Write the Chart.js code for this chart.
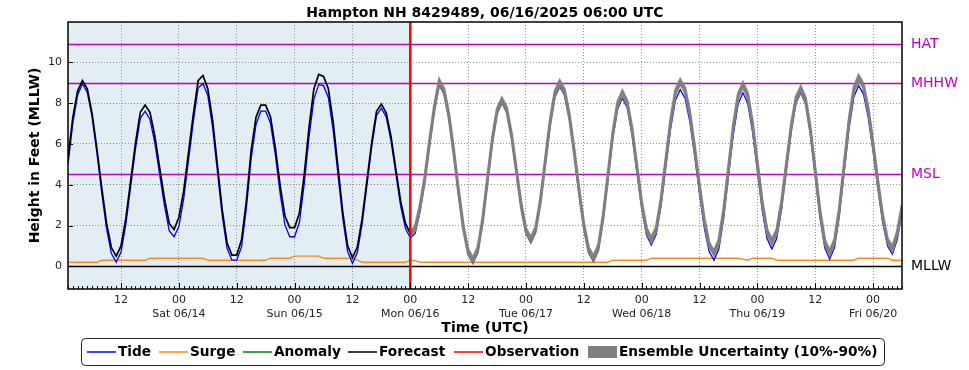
<!DOCTYPE html>
<html>
<head>
<meta charset="utf-8">
<title>Hampton NH 8429489</title>
<script src="https://cdn.jsdelivr.net/npm/chart.js@4.4.1/dist/chart.umd.min.js"></script>
<style>
  body { margin: 0; background: #fff; }
  canvas { display: block; }
</style>
</head>
<body>
<canvas id="tide-chart" width="969" height="370"></canvas>
<script>
// hours are counted from Mon 06/16 00:00 UTC, first sample is 06/13 01:00
const firstHour = -71;
const lastHour = 102;

const tide = [
  5.0, 7.0, 8.4, 8.95, 8.52, 7.31, 5.55, 3.6, 1.85, 0.63, 0.2,
  0.7, 2.05, 3.9, 5.75, 7.25, 7.6, 7.2, 6.06, 4.52, 2.99, 1.75, 1.45,
  1.95, 3.3, 5.2, 7.1, 8.75, 8.95, 8.37, 6.79, 4.63, 2.46, 0.88, 0.3, 0.3,
  0.95, 2.85, 5.3, 6.95, 7.6, 7.6, 7.02, 5.48, 3.57, 2.03, 1.45, 1.45,
  2.16, 4.02, 6.33, 8.19, 8.9, 8.85, 8.27, 6.67, 4.5, 2.33, 0.73, 0.15,
  0.66, 2.05, 3.95, 5.85, 7.4, 7.75, 7.32, 6.15, 4.55, 2.95, 1.85,
  1.4, 1.6, 2.65, 4.1, 5.95, 7.6, 8.88, 8.45, 7.24, 5.48, 3.54, 1.79, 0.58, 0.15,
  0.68, 2.11, 4.08, 6.04, 7.47, 8.0, 7.54, 6.29, 4.58, 2.86, 1.61, 1.15,
  1.66, 3.06, 4.98, 6.89, 8.29, 8.8, 8.38, 7.19, 5.47, 3.56, 1.84, 0.65, 0.23,
  0.77, 2.24, 4.24, 6.25, 7.71, 8.25, 7.77, 6.45, 4.65, 2.85, 1.53, 1.05,
  1.56, 2.95, 4.85, 6.75, 8.14, 8.65, 8.24, 7.08, 5.4, 3.55, 1.87, 0.71, 0.3,
  0.85, 2.35, 4.4, 6.45, 7.95, 8.5, 7.99, 6.59, 4.68, 2.76, 1.36, 0.85,
  1.36, 2.76, 4.68, 6.59, 7.99, 8.5, 7.95, 6.46, 4.43, 2.39, 0.9, 0.35,
  0.92, 2.48, 4.6, 6.73, 8.29, 8.85, 8.45, 7.3, 5.64, 3.81, 2.15, 1.0, 0.6,
  1.3, 2.6
];

const surge = [
  0.2, 0.2, 0.2, 0.2, 0.2, 0.2, 0.2,
  0.3, 0.3, 0.3, 0.3, 0.3, 0.3, 0.3, 0.3, 0.3, 0.3,
  0.4, 0.4, 0.4, 0.4, 0.4, 0.4, 0.4, 0.4, 0.4, 0.4, 0.4, 0.4,
  0.3, 0.3, 0.3, 0.3, 0.3, 0.3, 0.3, 0.3, 0.3, 0.3, 0.3, 0.3, 0.3,
  0.4, 0.4, 0.4, 0.4, 0.4,
  0.5, 0.5, 0.5, 0.5, 0.5, 0.5,
  0.4, 0.4, 0.4, 0.4, 0.4, 0.4, 0.4,
  0.3,
  0.2, 0.2, 0.2, 0.2, 0.2, 0.2, 0.2, 0.2, 0.2, 0.2,
  0.3, 0.28,
  0.2, 0.2, 0.2, 0.2, 0.2, 0.2, 0.2, 0.2, 0.2, 0.2,
  0.2, 0.2, 0.2, 0.2, 0.2, 0.2, 0.2, 0.2, 0.2, 0.2,
  0.2, 0.2, 0.2, 0.2, 0.2, 0.2, 0.2, 0.2, 0.2, 0.2,
  0.2, 0.2, 0.2, 0.2, 0.2, 0.2, 0.2, 0.2, 0.2, 0.2,
  0.3, 0.3, 0.3, 0.3, 0.3, 0.3, 0.3, 0.3,
  0.4, 0.4, 0.4, 0.4, 0.4, 0.4, 0.4, 0.4, 0.4, 0.4,
  0.4, 0.4, 0.4, 0.4, 0.4, 0.4, 0.4, 0.4, 0.4,
  0.35, 0.3,
  0.4, 0.4, 0.4, 0.4, 0.4,
  0.3, 0.3, 0.3, 0.3, 0.3, 0.3, 0.3, 0.3, 0.3, 0.3,
  0.3, 0.3, 0.3, 0.3, 0.3, 0.3, 0.3,
  0.4, 0.4, 0.4, 0.4, 0.4, 0.4, 0.4,
  0.3, 0.3, 0.3
];

const forecast = [
  5.3, 7.3, 8.6, 9.1, 8.7, 7.48, 5.75, 3.85, 2.12, 0.92, 0.5,
  1.0, 2.35, 4.2, 6.05, 7.55, 7.9, 7.55, 6.4, 4.85, 3.33, 2.1, 1.8,
  2.4, 3.7, 5.58, 7.46, 9.1, 9.35, 8.7, 7.15, 4.95, 2.75, 1.14, 0.55, 0.55,
  1.3, 3.2, 5.7, 7.3, 7.9, 7.9, 7.33, 5.83, 3.97, 2.47, 1.9, 1.9,
  2.61, 4.49, 6.81, 8.69, 9.4, 9.3, 8.71, 7.08, 4.87, 2.65, 1.02, 0.43,
  0.93, 2.31, 4.19, 6.07, 7.6, 7.95, 7.52, 6.36, 4.78, 3.19, 2.1,
  1.6, 1.85, 2.9, 4.3, 6.1, 7.8, 9.05, 8.62, 7.41, 5.65, 3.7, 1.94, 0.73, 0.3,
  0.83, 2.26, 4.23, 6.19, 7.62, 8.15, 7.69, 6.44, 4.73, 3.01, 1.76, 1.3,
  1.82, 3.23, 5.15, 7.08, 8.48, 9.0, 8.58, 7.38, 5.65, 3.75, 2.02, 0.82, 0.4,
  0.94, 2.43, 4.45, 6.48, 7.96, 8.5, 8.02, 6.7, 4.9, 3.1, 1.78, 1.3,
  1.82, 3.24, 5.18, 7.11, 8.53, 9.05, 8.64, 7.47, 5.78, 3.92, 2.23, 1.06, 0.65,
  1.2, 2.71, 4.78, 6.84, 8.35, 8.9, 8.38, 6.98, 5.05, 3.13, 1.72, 1.2,
  1.7, 3.08, 4.95, 6.83, 8.2, 8.7, 8.16, 6.69, 4.68, 2.66, 1.19, 0.65,
  1.23, 2.8, 4.95, 7.1, 8.67, 9.25, 8.84, 7.67, 5.98, 4.12, 2.43, 1.26, 0.85,
  1.6, 2.9
];

// ensemble band starts at the forecast time (hour 0)
const ens90 = [
  1.7, 1.95, 3.0, 4.4, 6.2, 7.9, 9.15, 8.72, 7.51, 5.75, 3.8, 2.04, 0.83, 0.4,
  0.93, 2.36, 4.33, 6.29, 7.72, 8.25, 7.79, 6.54, 4.83, 3.11, 1.86, 1.4,
  1.92, 3.33, 5.25, 7.18, 8.58, 9.1, 8.68, 7.48, 5.75, 3.85, 2.12, 0.92, 0.5,
  1.04, 2.53, 4.55, 6.58, 8.06, 8.6, 8.12, 6.8, 5.0, 3.2, 1.88, 1.4,
  1.92, 3.34, 5.28, 7.21, 8.63, 9.15, 8.74, 7.57, 5.88, 4.02, 2.33, 1.16, 0.75,
  1.3, 2.81, 4.88, 6.94, 8.45, 9.0, 8.48, 7.08, 5.15, 3.23, 1.82, 1.3,
  1.8, 3.18, 5.05, 6.93, 8.3, 8.8, 8.26, 6.79, 4.78, 2.76, 1.29, 0.75,
  1.33, 2.9, 5.05, 7.2, 8.77, 9.35, 8.94, 7.77, 6.08, 4.22, 2.53, 1.36, 0.95,
  1.7, 3.0
];
const ens10 = [
  1.5, 1.75, 2.8, 4.2, 6.0, 7.7, 8.95, 8.52, 7.31, 5.55, 3.6, 1.84, 0.63, 0.2,
  0.73, 2.16, 4.13, 6.09, 7.52, 8.05, 7.59, 6.34, 4.63, 2.91, 1.66, 1.2,
  1.72, 3.13, 5.05, 6.98, 8.38, 8.9, 8.48, 7.28, 5.55, 3.65, 1.92, 0.72, 0.3,
  0.84, 2.33, 4.35, 6.38, 7.86, 8.4, 7.92, 6.6, 4.8, 3.0, 1.68, 1.2,
  1.72, 3.14, 5.08, 7.01, 8.43, 8.95, 8.54, 7.37, 5.68, 3.82, 2.13, 0.96, 0.55,
  1.1, 2.61, 4.68, 6.74, 8.25, 8.8, 8.28, 6.88, 4.95, 3.03, 1.62, 1.1,
  1.6, 2.98, 4.85, 6.73, 8.1, 8.6, 8.06, 6.59, 4.58, 2.56, 1.09, 0.55,
  1.13, 2.7, 4.85, 7.0, 8.57, 9.15, 8.74, 7.57, 5.88, 4.02, 2.33, 1.16, 0.75,
  1.5, 2.8
];

const tickHours = [-60, -48, -36, -24, -12, 0, 12, 24, 36, 48, 60, 72, 84, 96];
const dayLabels = ['Sat 06/14', 'Sun 06/15', 'Mon 06/16', 'Tue 06/17', 'Wed 06/18', 'Thu 06/19', 'Fri 06/20'];
const yTicks = [0, 2, 4, 6, 8, 10];

const datumNames = ['HAT', 'MHHW', 'MSL', 'MLLW'];
const datumValues = [10.88, 8.97, 4.52, 0];
const datumColors = ['#bf00bf', '#bf00bf', '#bf00bf', '#000000'];

const chartTitle = 'Hampton NH 8429489, 06/16/2025 06:00 UTC';
const BAND = 'rgba(128,128,128,0.93)';

const toPoints = (values, start) => values.map((v, i) => ({ x: start + i, y: v }));

const decorations = {
    id: 'decorations',
    beforeDraw(chart) {
        const { ctx, chartArea: a, scales: { x } } = chart;
        ctx.save();
        ctx.fillStyle = '#e3edf4';
        ctx.fillRect(a.left, a.top, x.getPixelForValue(0) - a.left, a.bottom - a.top);
        ctx.restore();
    },
    beforeDatasetsDraw(chart) {
        const { ctx, chartArea: a, scales: { y } } = chart;
        ctx.save();
        ctx.font = '14px "DejaVu Sans"';
        ctx.textBaseline = 'middle';
        datumValues.forEach((v, i) => {
            const py = Math.round(y.getPixelForValue(v)) + 0.5;
            ctx.strokeStyle = datumColors[i];
            ctx.lineWidth = 1.3;
            ctx.beginPath();
            ctx.moveTo(a.left, py);
            ctx.lineTo(a.right, py);
            ctx.stroke();
            ctx.fillStyle = datumColors[i];
            ctx.fillText(datumNames[i], a.right + 9, py);
        });
        ctx.restore();
    },
    afterDatasetsDraw(chart) {
        const { ctx, chartArea: a, scales: { x, y } } = chart;
        ctx.save();
        // forecast time
        const px = x.getPixelForValue(0);
        ctx.strokeStyle = '#ff0000';
        ctx.lineWidth = 2.5;
        ctx.beginPath();
        ctx.moveTo(px, a.top);
        ctx.lineTo(px, a.bottom);
        ctx.stroke();

        // inward ticks
        ctx.strokeStyle = '#000';
        ctx.lineWidth = 1;
        ctx.beginPath();
        for (let h = firstHour; h <= lastHour; h++) {
            const tx = Math.round(x.getPixelForValue(h)) + 0.5;
            const len = tickHours.includes(h) ? 6 : 3;
            ctx.moveTo(tx, a.bottom);
            ctx.lineTo(tx, a.bottom - len);
        }
        yTicks.forEach(v => {
            const ty = Math.round(y.getPixelForValue(v)) + 0.5;
            ctx.moveTo(a.left, ty);
            ctx.lineTo(a.left + 5, ty);
        });
        ctx.stroke();

        ctx.lineWidth = 1.5;
        ctx.strokeRect(a.left, a.top, a.right - a.left, a.bottom - a.top);
        ctx.restore();
    },
    afterDraw(chart) {
        const { ctx, chartArea: a } = chart;
        const midX = (a.left + a.right) / 2;
        ctx.save();
        ctx.fillStyle = '#000';
        ctx.textAlign = 'center';
        ctx.textBaseline = 'middle';
        ctx.font = 'bold 14px "DejaVu Sans"';
        ctx.fillText(chartTitle, midX, 13);
        ctx.fillText('Time (UTC)', midX, 328);

        ctx.save();
        ctx.translate(35, (a.top + a.bottom) / 2);
        ctx.rotate(-Math.PI / 2);
        ctx.fillText('Height in Feet (MLLW)', 0, 0);
        ctx.restore();

        // legend
        ctx.strokeStyle = '#222';
        ctx.lineWidth = 1;
        ctx.beginPath();
        ctx.roundRect(81.5, 338.5, 803, 27, 4);
        ctx.stroke();

        const items = [
            { label: 'Tide', color: '#0000ff', x: 87 },
            { label: 'Surge', color: '#ff8c14', x: 159 },
            { label: 'Anomaly', color: '#008000', x: 243 },
            { label: 'Forecast', color: '#000000', x: 348 },
            { label: 'Observation', color: '#ff0000', x: 454 },
            { label: 'Ensemble Uncertainty (10%-90%)', color: '#808080', x: 588, box: true }
        ];
        const ly = 352;
        ctx.font = 'bold 13.7px "DejaVu Sans"';
        ctx.textAlign = 'left';
        items.forEach(it => {
            if (it.box) {
                ctx.fillStyle = it.color;
                ctx.fillRect(it.x, ly - 6, 29, 12);
            } else {
                ctx.strokeStyle = it.color;
                ctx.lineWidth = 1.5;
                ctx.beginPath();
                ctx.moveTo(it.x, ly);
                ctx.lineTo(it.x + 29, ly);
                ctx.stroke();
            }
            ctx.fillStyle = '#000';
            ctx.fillText(it.label, it.x + 31, ly);
        });
        ctx.restore();
    }
};

const gridStyle = { color: '#7a7a7a', lineWidth: 0.8, drawTicks: false };
const borderStyle = { display: false, dash: [1, 2] };

new Chart(document.getElementById('tide-chart'), {
    type: 'line',
    data: {
        datasets: [
            {
                label: 'Ensemble Uncertainty (10%-90%)',
                data: toPoints(ens90, 0),
                borderColor: BAND,
                backgroundColor: BAND,
                borderWidth: 2.6,
                fill: '+1',
                order: 1
            },
            {
                label: 'ens10',
                data: toPoints(ens10, 0),
                borderColor: BAND,
                borderWidth: 2.6,
                fill: false,
                order: 1
            },
            {
                label: 'Forecast',
                data: toPoints(forecast, firstHour),
                borderColor: '#000000',
                borderWidth: 1.7,
                order: 2
            },
            {
                label: 'Tide',
                data: toPoints(tide, firstHour),
                borderColor: '#0000ff',
                borderWidth: 1.3,
                order: 3
            },
            {
                label: 'Surge',
                data: toPoints(surge, firstHour),
                borderColor: '#ff8c14',
                borderWidth: 1.4,
                order: 4
            }
        ]
    },
    options: {
        responsive: false,
        animation: false,
        devicePixelRatio: 1,
        layout: { padding: { left: 0, right: 67, top: 22, bottom: 0 } },
        elements: {
            point: { radius: 0 },
            line: { tension: 0, fill: false }
        },
        plugins: {
            legend: { display: false },
            title: { display: false },
            tooltip: { enabled: false }
        },
        scales: {
            x: {
                type: 'linear',
                min: firstHour,
                max: lastHour,
                afterBuildTicks: scale => { scale.ticks = tickHours.map(v => ({ value: v })); },
                afterFit: scale => { scale.height = 81; },
                grid: gridStyle,
                border: borderStyle,
                ticks: {
                    padding: 5,
                    maxRotation: 0,
                    autoSkip: false,
                    color: '#222',
                    font: { family: 'DejaVu Sans', size: 11 },
                    callback: value => {
                        if (value % 24 === 0) {
                            return ['00', dayLabels[(value + 48) / 24]];
                        }
                        return '12';
                    }
                }
            },
            y: {
                min: -1.11,
                max: 11.97,
                afterBuildTicks: scale => { scale.ticks = yTicks.map(v => ({ value: v })); },
                afterFit: scale => { scale.width = 68; },
                grid: gridStyle,
                border: borderStyle,
                ticks: {
                    padding: 6,
                    color: '#222',
                    font: { family: 'DejaVu Sans', size: 11 }
                }
            }
        }
    },
    plugins: [decorations]
});
</script>
</body>
</html>
